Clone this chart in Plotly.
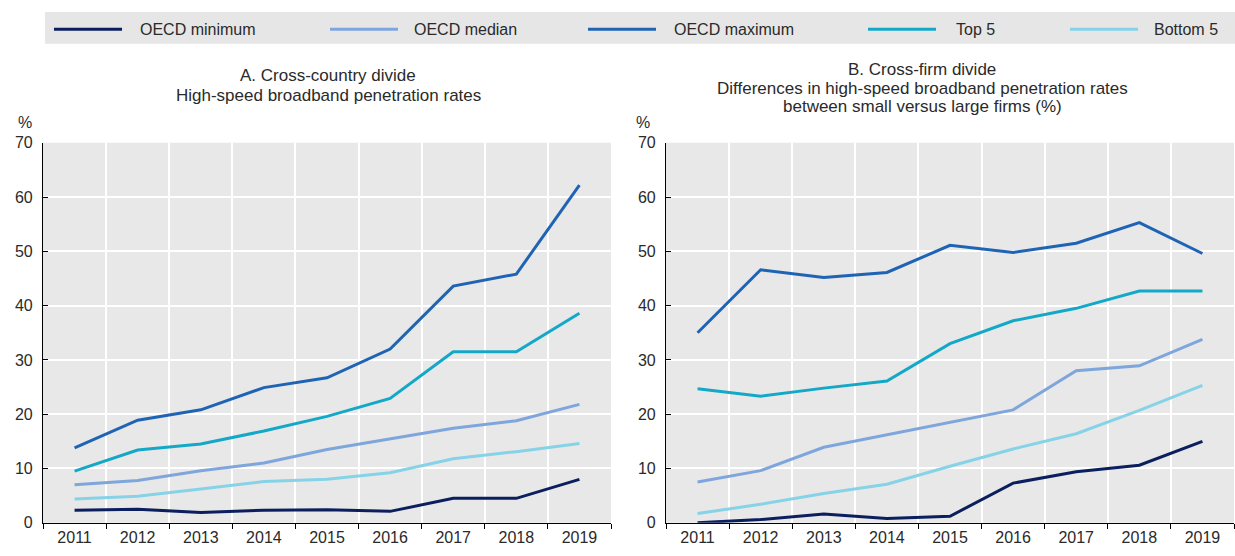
import plotly.graph_objects as go

years = ["2011", "2012", "2013", "2014", "2015", "2016", "2017", "2018", "2019"]
series_names = ["OECD minimum", "OECD median", "OECD maximum", "Top 5", "Bottom 5"]
series_colors = ["#0B1F5E", "#7EA6DC", "#1F64B4", "#14A8C8", "#86D3E8"]

# Panel A: high-speed broadband penetration rates (%)
a_min = [2.3, 2.5, 1.9, 2.3, 2.4, 2.1, 4.5, 4.5, 8.0]
a_median = [7.0, 7.8, 9.6, 11.0, 13.5, 15.5, 17.4, 18.8, 21.8]
a_max = [13.8, 18.9, 20.8, 24.9, 26.7, 32.0, 43.6, 45.8, 62.2]
a_top5 = [9.5, 13.4, 14.5, 16.9, 19.6, 22.9, 31.5, 31.5, 38.6]
a_bottom5 = [4.4, 4.9, 6.2, 7.6, 8.0, 9.2, 11.8, 13.1, 14.6]

# Panel B: small vs large firm gap in penetration rates (%)
b_min = [0.0, 0.6, 1.6, 0.8, 1.2, 7.3, 9.4, 10.6, 15.0]
b_median = [7.5, 9.6, 13.9, 16.2, 18.4, 20.8, 28.0, 28.9, 33.8]
b_max = [35.0, 46.6, 45.2, 46.1, 51.1, 49.8, 51.5, 55.3, 49.6]
b_top5 = [24.7, 23.3, 24.8, 26.1, 33.0, 37.2, 39.5, 42.7, 42.7]
b_bottom5 = [1.7, 3.4, 5.4, 7.1, 10.4, 13.6, 16.4, 20.7, 25.3]

panel_a = [a_min, a_median, a_max, a_top5, a_bottom5]
panel_b = [b_min, b_median, b_max, b_top5, b_bottom5]

title_a = ["A. Cross-country divide", "High-speed broadband penetration rates"]
title_b = ["B. Cross-firm divide", "Differences in high-speed broadband penetration rates",
           "between small versus large firms (%)"]

W, H = 1235, 556
FONT = "Liberation Sans, Arial, sans-serif"
FS = 16
TITLE_FS = 17
TXT = "#2A2A2A"

fig = go.Figure()

# draw order: lighter/lower lines first so the top series sit above
order = [4, 1, 3, 2, 0]
for i in order:
    fig.add_trace(go.Scatter(x=years, y=panel_a[i], mode="lines", name=series_names[i],
                             line=dict(color=series_colors[i], width=3), xaxis="x", yaxis="y",
                             showlegend=False, cliponaxis=False))
for i in order:
    fig.add_trace(go.Scatter(x=years, y=panel_b[i], mode="lines", name=series_names[i],
                             line=dict(color=series_colors[i], width=3), xaxis="x2", yaxis="y2",
                             showlegend=False, cliponaxis=False))


def px_x(v):
    return v / W


def px_y(v):
    return 1 - v / H


xaxis_common = dict(type="category", tickson="boundaries", showgrid=True, gridcolor="white",
                    gridwidth=1.5, showline=True, linecolor="black", linewidth=1.2,
                    ticks="outside", ticklen=5, tickcolor="black", mirror=False,
                    tickfont=dict(family=FONT, size=FS, color=TXT), range=[-0.5, 8.5],
                    fixedrange=True)
yaxis_common = dict(range=[0, 70], dtick=10, showgrid=True, gridcolor="white", gridwidth=1.5,
                    showline=True, linecolor="black", linewidth=1.2, zeroline=False,
                    ticks="inside", ticklen=5, tickcolor="black",
                    tickfont=dict(family=FONT, size=FS, color=TXT), ticklabelstandoff=6)

fig.update_layout(
    width=W, height=H,
    margin=dict(l=0, r=0, t=0, b=0),
    paper_bgcolor="white",
    plot_bgcolor="#E8E8E8",
    showlegend=False,
    xaxis=dict(domain=[px_x(43), px_x(611)], anchor="y", **xaxis_common),
    yaxis=dict(domain=[px_y(531), px_y(139)], anchor="x", **yaxis_common),
    xaxis2=dict(domain=[px_x(666), px_x(1234)], anchor="y2", **xaxis_common),
    yaxis2=dict(domain=[px_y(531), px_y(139)], anchor="x2", **yaxis_common),
)

shapes = []
annotations = []

# legend band
shapes.append(dict(type="rect", xref="paper", yref="paper", x0=px_x(45), x1=px_x(1236),
                   y0=px_y(37), y1=px_y(4), fillcolor="#E6E6E6", line=dict(width=0), layer="below"))
legend_line_x = [54, 330, 588, 868, 1070]
legend_text_x = [138, 412, 672, 954, 1152]
for i, name in enumerate(series_names):
    shapes.append(dict(type="line", xref="paper", yref="paper",
                       x0=px_x(legend_line_x[i]), x1=px_x(legend_line_x[i] + 68),
                       y0=px_y(22), y1=px_y(22),
                       line=dict(color=series_colors[i], width=3)))
    annotations.append(dict(text=name, xref="paper", yref="paper", x=px_x(legend_text_x[i]),
                            y=px_y(22), xanchor="left", yanchor="middle", showarrow=False,
                            font=dict(family=FONT, size=FS, color=TXT)))

# panel titles, one annotation per line for tight line spacing
for text, yp in zip(title_a, (70, 90)):
    annotations.append(dict(text=text, xref="paper", yref="paper", x=px_x(328), y=px_y(yp),
                            xanchor="center", yanchor="middle", showarrow=False,
                            font=dict(family=FONT, size=TITLE_FS, color=TXT)))
for text, yp in zip(title_b, (63, 83, 102)):
    annotations.append(dict(text=text, xref="paper", yref="paper", x=px_x(922), y=px_y(yp),
                            xanchor="center", yanchor="middle", showarrow=False,
                            font=dict(family=FONT, size=TITLE_FS, color=TXT)))

# unit labels
for xp in (25, 643):
    annotations.append(dict(text="%", xref="paper", yref="paper", x=px_x(xp), y=px_y(118),
                            xanchor="center", yanchor="middle", showarrow=False,
                            font=dict(family=FONT, size=FS, color=TXT)))

fig.update_layout(shapes=shapes, annotations=annotations)
fig.write_html("out.html")
